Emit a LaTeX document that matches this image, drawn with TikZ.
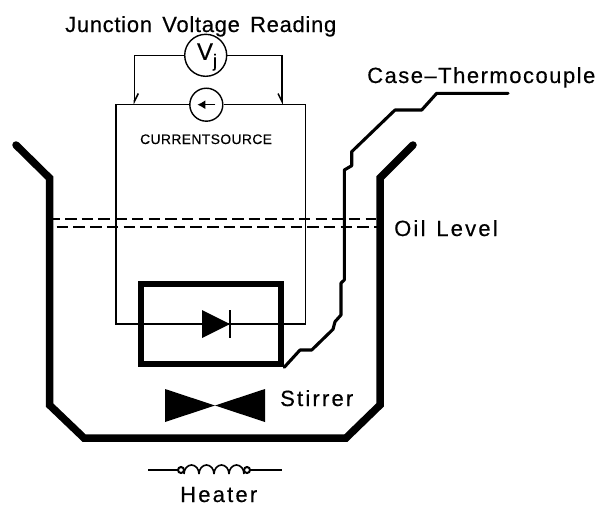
\documentclass[tikz,border=0pt]{standalone}
\usepackage{fontspec}
\usepackage{tikz}
\usetikzlibrary{arrows.meta}
\newfontfamily\cadfont[LetterSpace=3.2,WordSpace=1.5,FakeBold=0.4]{Liberation Sans}
\newfontfamily\cadcase[LetterSpace=6.8,FakeBold=0.4]{Liberation Sans}
\newfontfamily\cadwide[LetterSpace=10,WordSpace=1.3,FakeBold=0.4]{Liberation Sans}
\tikzset{
	cadlabel/.style={anchor=base west,inner sep=0pt,font=\cadfont\fontsize{22}{22}\selectfont},
	caselabel/.style={anchor=base west,inner sep=0pt,font=\cadcase\fontsize{22}{22}\selectfont},
	widelabel/.style={anchor=base west,inner sep=0pt,font=\cadwide\fontsize{22}{22}\selectfont},
	smalllabel/.style={anchor=base west,inner sep=0pt,font=\cadfont\fontsize{13.8}{14}\selectfont},
	potwall/.style={line width=7.5pt,line cap=round,line join=miter},
	wire/.style={line width=1.2pt},
	probe/.style={line width=1.5pt,-{Straight Barb[harpoon,length=8pt,width=8pt]}},
	thermowire/.style={line width=3.1pt,line cap=round},
	oil/.style={line width=2.4pt,dash pattern=on 11.5pt off 5.2pt},
	meter/.style={draw,circle,line width=1.4pt,inner sep=0pt,fill=white}
}
\begin{document}
\begin{tikzpicture}[x=1pt,y=-1pt]
	\useasboundingbox (0,0) rectangle (607,506);
	% oil level
	\draw[oil] (48.3,218.7) -- (376,218.7);
	\draw[oil] (56.7,227) -- (380,227);
	% instruments
	\node[meter,minimum size=42pt] (vj) at (205.7,55.3) {};
	\node[font=\cadfont\fontsize{24}{24}\selectfont,inner sep=0pt] (vjtext) at (207,57) {V\raisebox{-7pt}{\fontsize{18}{18}\selectfont j}};
	\node[meter,minimum size=33pt] (cs) at (206.3,104.7) {};
	\draw[line width=1.4pt,-{Latex[length=8pt,width=9pt]}] ([xshift=9pt]cs.center) -- ([xshift=-9pt]cs.center);
	\coordinate (tapl) at (134.3,104.7);
	\coordinate (tapr) at (282,104.7);
	\coordinate (loopl) at (116,324);
	\coordinate (loopr) at (305.7,324);
	\coordinate (tcend) at (508,93.3);
	\coordinate (dio) at (216,324);
	\coordinate (stirc) at (216,405.5);
	\draw[probe] (vj.west) -| (tapl);
	\draw[probe,-{Straight Barb[harpoon,swap,length=8pt,width=8pt]}] (vj.east) -| (tapr);
	\draw[wire] (cs.west) -| (loopl) -- (loopr) |- (cs.east);
	% diode can
	\node[draw,line width=6.5pt,minimum width=140pt,minimum height=80pt] (can) at (211,324) {};
	\fill (dio)+(-14,-14) -- +(14,0) -- +(-14,14) -- cycle;
	\draw[line width=1.5pt] (dio)+(14,-14) -- +(14,14);
	% thermocouple
	\draw[thermowire,line join=round] (can.south east) -- (300,350) -- (311.7,350) -- (333,329.3) -- (335,321.7) -- (341,315)
		-- (341,283) -- (344.3,280) -- (344.3,170) -- (351.7,165.7) -- (351.7,151.7) -- (395,110) -- (421.7,110) -- (436.7,93.3) -- (tcend);
	% pot
	\draw[potwall] (16,145) -- (49.5,178) -- (49.5,405) -- (84,438) -- (346,438) -- (380,405) -- (380,178) -- (413,145);
	% stirrer
	\fill (stirc)+(-51,-16.5) -- +(49,16.5) -- +(49,-16.5) -- +(-51,16.5) -- cycle;
	% heater
	\draw[wire] (148,470) -- (178,470) (250,470) -- (282,470);
	\draw[line width=2pt] (181,470) circle (3);
	\draw[line width=2pt] (247,470) circle (3);
	\foreach \p in {184,199,214,229} {
		\draw[line width=1.6pt] (\p,474) arc[start angle=180,end angle=360,x radius=7.5,y radius=9];
	}
	% labels
	\node[cadlabel] (title) at (65,32) {Junction Voltage Reading};
	\node[smalllabel] (cslabel) at (140,144) {CURRENTSOURCE};
	\node[caselabel] (tclabel) at (367,83) {Case\textendash Thermocouple};
	\node[widelabel] (oillabel) at (394,236) {Oil Level};
	\node[widelabel] (stirlabel) at (280,406) {Stirrer};
	\node[widelabel] (heatlabel) at (180,502) {Heater};
\end{tikzpicture}
\end{document}
